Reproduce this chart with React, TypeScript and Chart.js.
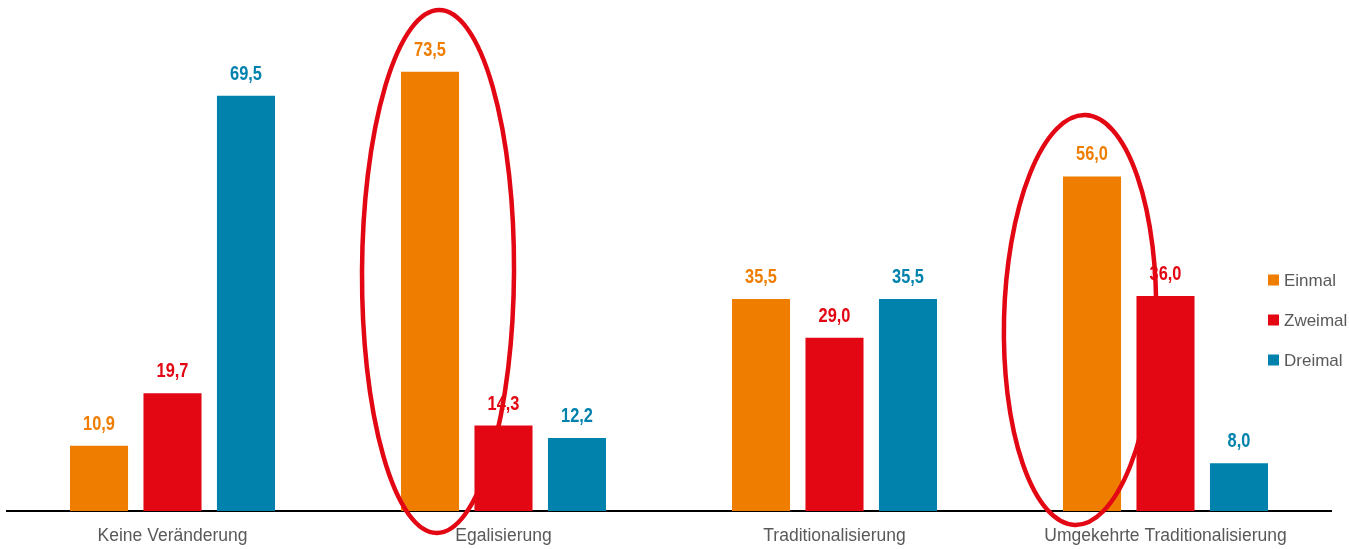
import React, { useEffect, useRef } from "react";
import { Chart, registerables } from "chart.js";

Chart.register(...registerables);

const categories = ["Keine Veränderung", "Egalisierung", "Traditionalisierung", "Umgekehrte Traditionalisierung"];
const seriesNames = ["Einmal", "Zweimal", "Dreimal"];
const einmal = [10.9, 73.5, 35.5, 56.0];
const zweimal = [19.7, 14.3, 29.0, 36.0];
const dreimal = [69.5, 12.2, 35.5, 8.0];
const seriesColors = ["#EF7D00", "#E30613", "#0082AD"];
// highlighted bars: [datasetIndex, categoryIndex]
const highlights = [
  { dataset: 0, index: 1, dx: 8, cy: 271.5, rx: 76, ry: 261.5, rot: 0.005 },
  { dataset: 0, index: 3, dx: -12, cy: 320, rx: 76, ry: 205, rot: 0.025 },
];

const TEXT_FONT = "'Liberation Sans', Arial, sans-serif";

const valueLabelPlugin = {
  id: "valueLabels",
  afterDatasetsDraw(chart: any) {
    const ctx = chart.ctx;
    chart.data.datasets.forEach((ds: any, di: number) => {
      const meta = chart.getDatasetMeta(di);
      meta.data.forEach((bar: any, i: number) => {
        const v = ds.data[i] as number;
        ctx.save();
        ctx.font = `bold 21px ${TEXT_FONT}`;
        ctx.textAlign = "center";
        ctx.textBaseline = "alphabetic";
        ctx.fillStyle = seriesColors[di];
        ctx.translate(bar.x, bar.y - 16);
        ctx.scale(0.78, 1);
        ctx.fillText(v.toFixed(1).replace(".", ","), 0, 0);
        ctx.restore();
      });
    });
  },
};

const ellipsePlugin = {
  id: "ellipses",
  afterDraw(chart: any) {
    const ctx = chart.ctx;
    ctx.save();
    ctx.strokeStyle = "#E30613";
    ctx.lineWidth = 4.5;
    highlights.forEach((h) => {
      const bar = chart.getDatasetMeta(h.dataset).data[h.index];
      ctx.beginPath();
      ctx.ellipse(bar.x + h.dx, h.cy, h.rx, h.ry, h.rot, 0, Math.PI * 2);
      ctx.stroke();
    });
    ctx.restore();
  },
};

const legendPlugin = {
  id: "sideLegend",
  afterDraw(chart: any) {
    const ctx = chart.ctx;
    ctx.save();
    ctx.font = `17px ${TEXT_FONT}`;
    ctx.textAlign = "left";
    ctx.textBaseline = "middle";
    const x0 = 1268;
    const y0 = 280;
    const step = 40;
    seriesNames.forEach((name, i) => {
      const y = y0 + i * step;
      ctx.fillStyle = seriesColors[i];
      ctx.fillRect(x0, y - 5.5, 11, 11);
      ctx.fillStyle = "#595959";
      ctx.fillText(name, x0 + 16, y + 1);
    });
    ctx.restore();
  },
};

export default function App() {
  const ref = useRef<HTMLCanvasElement>(null);
  useEffect(() => {
    const values = [einmal, zweimal, dreimal];
    const chart = new Chart(ref.current as HTMLCanvasElement, {
      type: "bar",
      data: {
        labels: categories,
        datasets: seriesNames.map((name, i) => ({
          label: name,
          data: values[i],
          backgroundColor: seriesColors[i],
          borderWidth: 0,
          categoryPercentage: 0.666,
          barPercentage: 0.79,
        })),
      },
      options: {
        responsive: false,
        animation: false,
        layout: { padding: { top: 33, left: 7, right: 18, bottom: 0 } },
        plugins: { legend: { display: false }, tooltip: { enabled: false } },
        scales: {
          x: {
            grid: { display: false, drawTicks: false },
            border: { display: true, color: "#000000", width: 2 },
            ticks: { color: "#595959", font: { family: TEXT_FONT, size: 17.5 }, padding: 15, maxRotation: 0, autoSkip: false },
            afterFit: (s: any) => {
              s.height = 38;
            },
          },
          y: { display: false, min: 0, max: 80 },
        },
      },
      plugins: [valueLabelPlugin, ellipsePlugin, legendPlugin],
    });
    return () => chart.destroy();
  }, []);
  return (
    <div style={{ position: "fixed", left: 0, top: 0, width: 1349, height: 549, background: "#fff" }}>
      <canvas ref={ref} width={1349} height={549} style={{ width: 1349, height: 549, display: "block" }} />
    </div>
  );
}
